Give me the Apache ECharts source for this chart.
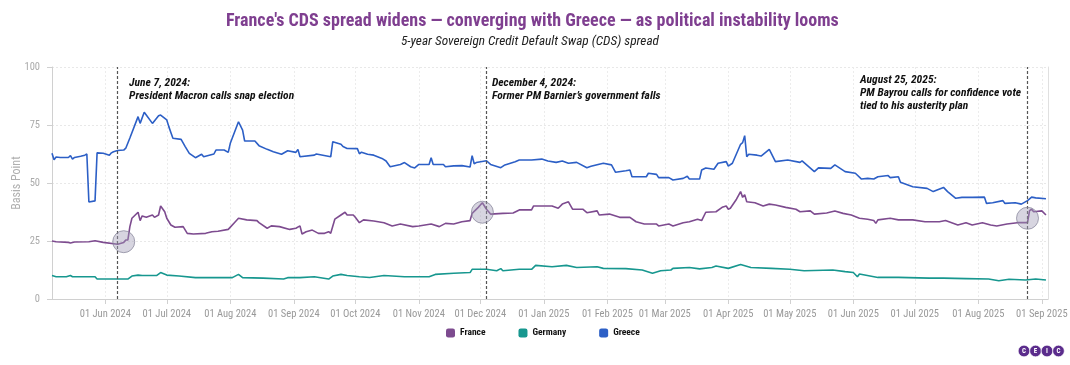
<!DOCTYPE html>
<html><head><meta charset="utf-8">
<script src="https://cdn.jsdelivr.net/npm/echarts@6/dist/echarts.min.js"></script>
<style>html,body{margin:0;padding:0;background:#fff}#c{width:1070px;height:365px}</style>
</head><body><div id="c"></div>
<script>
const FONT = "'Liberation Sans Narrow','Roboto Condensed','DejaVu Sans Condensed',Roboto,sans-serif";

const titleText = "France's CDS spread widens \u2014 converging with Greece \u2014 as political instability looms";
const subtitleText = "5-year Sovereign Credit Default Swap (CDS) spread";
const yAxisName = "Basis Point";
const seriesNames = ['France', 'Germany', 'Greece'];
const monthNames = ['Jan','Feb','Mar','Apr','May','Jun','Jul','Aug','Sep','Oct','Nov','Dec'];
const yTicks = [0, 25, 50, 75, 100];
const xRange = ['2024-05-06', '2025-09-04'];

const greece = [
['2024-05-06',62.8],['2024-05-07',60.0],['2024-05-08',61.2],['2024-05-10',61.0],['2024-05-14',61.0],
['2024-05-15',61.8],['2024-05-16',60.3],['2024-05-17',61.0],['2024-05-20',61.5],['2024-05-22',62.0],
['2024-05-23',62.5],['2024-05-24',41.8],['2024-05-27',42.3],['2024-05-28',63.0],['2024-05-31',62.8],
['2024-06-03',62.0],['2024-06-04',63.0],['2024-06-05',63.5],['2024-06-07',64.0],['2024-06-10',64.2],
['2024-06-11',65.0],['2024-06-13',69.4],['2024-06-17',78.6],['2024-06-18',75.7],['2024-06-20',80.5],
['2024-06-21',79.3],['2024-06-24',75.7],['2024-06-27',79.0],['2024-06-28',79.3],['2024-07-01',77.2],
['2024-07-02',74.3],['2024-07-03',71.8],['2024-07-04',69.3],['2024-07-08',68.8],['2024-07-10',65.7],
['2024-07-12',62.8],['2024-07-15',60.9],['2024-07-18',62.4],['2024-07-19',61.3],['2024-07-24',62.5],
['2024-07-25',64.2],['2024-07-29',64.2],['2024-07-31',63.2],['2024-08-01',67.1],['2024-08-05',76.4],
['2024-08-07',72.8],['2024-08-08',68.1],['2024-08-13',68.1],['2024-08-15',66.1],['2024-08-19',64.5],
['2024-08-22',63.5],['2024-08-26',62.4],['2024-08-29',63.9],['2024-09-02',63.2],['2024-09-03',64.5],
['2024-09-04',61.3],['2024-09-11',62.0],['2024-09-12',62.5],['2024-09-19',61.3],['2024-09-20',67.8],
['2024-09-24',66.7],['2024-09-25',65.7],['2024-09-27',64.9],['2024-10-02',64.8],['2024-10-03',62.6],
['2024-10-04',63.3],['2024-10-07',62.4],['2024-10-10',62.0],['2024-10-14',60.6],['2024-10-16',59.5],
['2024-10-18',57.0],['2024-10-23',58.0],['2024-10-25',58.8],['2024-10-28',57.0],['2024-10-30',56.5],
['2024-11-01',58.0],['2024-11-06',58.0],['2024-11-07',60.9],['2024-11-08',58.0],['2024-11-13',58.0],
['2024-11-14',57.0],['2024-11-18',57.4],['2024-11-22',57.5],['2024-11-26',56.9],['2024-11-27',61.8],
['2024-11-28',58.3],['2024-11-29',58.8],['2024-12-04',59.6],['2024-12-06',58.0],['2024-12-11',56.6],
['2024-12-13',57.8],['2024-12-18',59.2],['2024-12-20',59.9],['2024-12-26',59.9],['2024-12-31',60.3],
['2025-01-03',59.5],['2025-01-07',58.9],['2025-01-10',59.5],['2025-01-13',58.5],['2025-01-17',58.9],
['2025-01-22',56.6],['2025-01-24',57.2],['2025-01-30',58.5],['2025-02-03',57.8],['2025-02-05',54.6],
['2025-02-10',55.3],['2025-02-12',55.6],['2025-02-13',52.7],['2025-02-20',52.7],['2025-02-21',54.2],
['2025-02-25',53.7],['2025-02-26',52.3],['2025-03-03',52.3],['2025-03-05',51.3],['2025-03-10',52.0],
['2025-03-12',52.9],['2025-03-13',51.7],['2025-03-18',51.7],['2025-03-19',55.6],['2025-03-21',56.5],
['2025-03-25',55.9],['2025-03-27',58.5],['2025-03-31',59.2],['2025-04-01',57.3],['2025-04-03',58.5],
['2025-04-07',66.7],['2025-04-08',67.4],['2025-04-09',70.4],['2025-04-10',61.3],['2025-04-11',62.4],
['2025-04-15',62.0],['2025-04-17',61.6],['2025-04-21',64.5],['2025-04-24',59.2],['2025-04-30',59.9],
['2025-05-06',58.9],['2025-05-07',59.5],['2025-05-13',54.9],['2025-05-15',56.5],['2025-05-21',56.3],
['2025-05-23',57.8],['2025-05-28',54.9],['2025-06-02',54.2],['2025-06-05',51.7],['2025-06-08',52.0],
['2025-06-11',51.7],['2025-06-13',52.7],['2025-06-18',53.2],['2025-06-19',52.3],['2025-06-23',52.7],
['2025-06-24',50.3],['2025-06-30',48.4],['2025-07-07',47.7],['2025-07-10',46.3],['2025-07-15',48.1],
['2025-07-17',46.3],['2025-07-21',43.4],['2025-07-24',43.8],['2025-07-29',43.8],['2025-08-04',43.9],
['2025-08-05',41.2],['2025-08-08',41.5],['2025-08-13',42.4],['2025-08-14',41.2],['2025-08-19',41.5],
['2025-08-22',40.9],['2025-08-25',42.4],['2025-08-27',43.9],['2025-08-29',43.6],['2025-09-03',43.2]
];

const france = [
['2024-05-06',25.0],['2024-05-08',24.7],['2024-05-14',24.4],['2024-05-15',24.1],['2024-05-17',24.6],
['2024-05-24',24.7],['2024-05-27',25.1],['2024-05-31',24.4],['2024-06-07',23.6],['2024-06-10',24.4],
['2024-06-11',25.4],['2024-06-12',25.4],['2024-06-13',31.2],['2024-06-14',34.8],['2024-06-17',37.4],
['2024-06-18',33.8],['2024-06-19',35.8],['2024-06-21',35.2],['2024-06-24',36.2],['2024-06-25',35.2],
['2024-06-27',36.2],['2024-06-28',40.1],['2024-06-30',37.6],['2024-07-01',34.8],['2024-07-03',31.9],
['2024-07-05',30.9],['2024-07-09',31.2],['2024-07-11',28.3],['2024-07-14',28.0],['2024-07-20',28.3],
['2024-07-23',29.0],['2024-07-26',29.2],['2024-07-31',30.0],['2024-08-03',32.9],['2024-08-05',34.8],
['2024-08-09',34.1],['2024-08-14',33.8],['2024-08-15',32.9],['2024-08-19',30.5],['2024-08-21',31.5],
['2024-08-25',31.2],['2024-08-30',30.0],['2024-09-02',30.5],['2024-09-04',31.5],['2024-09-05',28.0],
['2024-09-07',29.0],['2024-09-10',29.7],['2024-09-13',28.3],['2024-09-16',28.3],['2024-09-18',29.0],
['2024-09-19',28.3],['2024-09-21',34.4],['2024-09-24',36.2],['2024-09-26',37.4],['2024-09-27',36.2],
['2024-09-30',36.2],['2024-10-01',35.2],['2024-10-03',32.9],['2024-10-05',34.1],['2024-10-10',33.6],
['2024-10-15',32.9],['2024-10-19',31.5],['2024-10-23',32.3],['2024-10-29',31.2],['2024-11-01',31.5],
['2024-11-07',32.3],['2024-11-11',31.2],['2024-11-14',32.6],['2024-11-18',32.3],['2024-11-22',33.3],
['2024-11-26',33.8],['2024-11-27',36.9],['2024-11-30',39.5],['2024-12-02',41.5],['2024-12-04',38.7],
['2024-12-06',36.6],['2024-12-12',36.9],['2024-12-17',37.1],['2024-12-20',38.4],['2024-12-26',38.4],
['2024-12-27',40.1],['2025-01-05',40.1],['2025-01-08',39.1],['2025-01-10',40.9],['2025-01-13',41.9],
['2025-01-15',38.7],['2025-01-20',38.7],['2025-01-22',37.2],['2025-01-27',38.0],['2025-01-28',36.2],
['2025-02-02',36.6],['2025-02-07',35.2],['2025-02-12',35.2],['2025-02-15',33.3],['2025-02-19',32.3],
['2025-02-25',32.3],['2025-02-26',31.5],['2025-03-03',32.3],['2025-03-05',31.5],['2025-03-10',32.9],
['2025-03-13',33.3],['2025-03-17',34.4],['2025-03-19',33.8],['2025-03-21',37.4],['2025-03-26',37.6],
['2025-03-29',39.5],['2025-03-31',40.1],['2025-04-01',38.7],['2025-04-02',39.1],['2025-04-05',43.0],
['2025-04-07',46.3],['2025-04-08',43.8],['2025-04-09',45.0],['2025-04-10',41.9],['2025-04-14',41.5],
['2025-04-18',40.1],['2025-04-21',40.9],['2025-04-24',40.5],['2025-04-29',39.5],['2025-05-04',38.7],
['2025-05-06',37.6],['2025-05-11',38.0],['2025-05-13',36.6],['2025-05-19',37.1],['2025-05-23',37.9],
['2025-05-27',36.9],['2025-05-31',36.2],['2025-06-04',34.8],['2025-06-08',34.4],['2025-06-11',33.8],
['2025-06-12',32.6],['2025-06-13',34.1],['2025-06-19',34.8],['2025-06-23',34.1],['2025-06-30',34.1],
['2025-07-06',33.3],['2025-07-13',33.3],['2025-07-16',33.8],['2025-07-22',31.9],['2025-07-26',32.9],
['2025-07-29',31.9],['2025-08-03',32.9],['2025-08-07',31.9],['2025-08-10',31.5],['2025-08-15',32.3],
['2025-08-20',32.9],['2025-08-25',32.9],['2025-08-26',38.1],['2025-08-27',38.7],['2025-08-28',37.6],
['2025-09-01',38.0],['2025-09-03',36.2]
];

const germany = [
['2024-05-06',10.1],['2024-05-08',9.6],['2024-05-13',9.6],['2024-05-15',10.1],['2024-05-16',9.6],
['2024-05-27',9.6],['2024-05-28',8.6],['2024-06-12',8.6],['2024-06-14',9.9],['2024-06-17',10.3],
['2024-06-19',10.1],['2024-06-26',10.1],['2024-06-28',11.4],['2024-07-01',10.3],['2024-07-07',9.9],
['2024-07-15',9.2],['2024-08-02',9.2],['2024-08-05',10.6],['2024-08-07',9.2],['2024-08-17',9.0],
['2024-08-27',8.6],['2024-08-29',9.2],['2024-09-04',9.2],['2024-09-11',9.6],['2024-09-18',8.6],
['2024-09-20',9.9],['2024-09-24',10.6],['2024-09-27',10.1],['2024-10-03',9.6],['2024-10-08',9.3],
['2024-10-15',10.1],['2024-10-25',9.6],['2024-11-06',9.6],['2024-11-09',10.6],['2024-11-18',11.1],
['2024-11-26',11.4],['2024-11-27',12.8],['2024-12-04',12.8],['2024-12-09',12.2],['2024-12-11',13.1],
['2024-12-12',12.2],['2024-12-20',12.8],['2024-12-26',12.8],['2024-12-28',14.5],['2025-01-05',13.9],
['2025-01-12',14.5],['2025-01-17',13.6],['2025-01-27',13.9],['2025-01-30',13.2],['2025-02-10',13.1],
['2025-02-18',12.5],['2025-02-23',11.1],['2025-02-27',12.2],['2025-03-04',12.5],['2025-03-05',13.2],
['2025-03-13',13.6],['2025-03-18',13.0],['2025-03-24',13.6],['2025-03-26',14.2],['2025-04-01',13.2],
['2025-04-07',14.9],['2025-04-12',13.6],['2025-04-22',13.2],['2025-05-01',12.8],['2025-05-08',12.2],
['2025-05-22',12.5],['2025-05-28',11.8],['2025-06-01',11.4],['2025-06-03',9.6],['2025-06-04',10.8],
['2025-06-13',9.3],['2025-06-23',9.3],['2025-07-08',9.0],['2025-07-15',9.0],['2025-07-26',8.8],
['2025-08-06',8.6],['2025-08-11',7.9],['2025-08-16',8.5],['2025-08-24',8.2],['2025-08-29',8.6],
['2025-09-03',8.2]
];

const eventDates = ['2024-06-07', '2024-12-04', '2025-08-25'];
const eventTexts = [
  'June 7, 2024:\nPresident Macron calls snap election',
  'December 4, 2024:\nFormer PM Barnier\u2019s government falls',
  'August 25, 2025:\nPM Bayrou calls for confidence vote\ntied to his austerity plan'
];
const highlights = [['2024-06-10', 24.7], ['2024-12-02', 37.4], ['2025-08-25', 34.8]];
const logoLetters = ['C', 'E', 'I', 'C'];

// ---------- build ----------
const ts = s => { const p = s.split('-'); return new Date(+p[0], +p[1] - 1, +p[2]).getTime(); };
const toSeries = arr => arr.map(d => [ts(d[0]), d[1]]);
const colors = { France: '#7d4b8f', Germany: '#17978f', Greece: '#2c5fc6' };
const annoOffsets = [[12, 10], [6, 10], [-167, 7]];
const pad = n => (n < 10 ? '0' : '') + n;

const chart = echarts.init(document.getElementById('c'), null, { renderer: 'canvas' });

const markPointData = highlights.map(h => ({
  coord: [ts(h[0]), h[1]], symbol: 'circle', symbolSize: 22,
  itemStyle: { color: 'rgba(160,155,180,0.42)', borderColor: 'rgba(130,128,150,0.7)', borderWidth: 1 },
  label: { show: false }
})).concat(eventDates.map((d, i) => ({
  coord: [ts(d), 100], symbol: 'circle', symbolSize: 1,
  itemStyle: { color: 'rgba(0,0,0,0)' },
  label: {
    show: true, position: annoOffsets[i], formatter: eventTexts[i],
    align: 'left', verticalAlign: 'top', color: '#111', fontFamily: FONT,
    fontSize: 11.5, fontWeight: 'bold', fontStyle: 'italic', lineHeight: 13
  }
})));

const series = [
  { name: 'France', data: toSeries(france) },
  { name: 'Germany', data: toSeries(germany) },
  { name: 'Greece', data: toSeries(greece) }
].map(s => ({
  name: s.name, type: 'line', data: s.data, showSymbol: false, symbol: 'none',
  lineStyle: { width: 1.6, color: colors[s.name] }, itemStyle: { color: colors[s.name] },
  animation: false, z: 2
}));
series[0].markLine = {
  silent: true, symbol: ['none', 'none'], animation: false,
  lineStyle: { color: '#555', type: [3, 2], width: 1.2 },
  label: { show: false },
  data: eventDates.map(d => ({ xAxis: ts(d) }))
};
series[0].markPoint = { silent: true, animation: false, data: markPointData };

const logoCenters = [1024, 1035.5, 1047, 1058.5];
const logo = logoCenters.map((cx, i) => ({
  type: 'group', children: [
    { type: 'circle', shape: { cx: cx, cy: 351, r: 5.8 }, style: { fill: '#5b2c8c', stroke: '#fff', lineWidth: 0.6 } },
    { type: 'text', x: cx, y: 351, style: { text: logoLetters[i], fill: '#fff', font: 'bold 7px ' + FONT, align: 'center', verticalAlign: 'middle' } }
  ]
}));

chart.setOption({
  animation: false,
  backgroundColor: '#fff',
  title: [
    { text: titleText, left: 221, top: 7, textStyle: { color: '#7f3f90', fontSize: 18, fontWeight: 'bold', fontFamily: FONT } },
    { text: subtitleText, left: 396, top: 30, textStyle: { color: '#222', fontSize: 13.3, fontStyle: 'italic', fontWeight: 'normal', fontFamily: FONT } }
  ],
  legend: {
    data: seriesNames, left: 441, top: 323, itemWidth: 9, itemHeight: 9, itemGap: 33, icon: 'roundRect',
    textStyle: { color: '#111', fontSize: 9.5, fontWeight: 'bold', fontFamily: FONT }
  },
  grid: { left: 52, right: 22, top: 67, bottom: 66, containLabel: false, outerBoundsMode: 'none' },
  xAxis: {
    type: 'time', min: ts(xRange[0]), max: ts(xRange[1]),
    splitNumber: 16, minInterval: 28 * 864e5, maxInterval: 31 * 864e5,
    axisLine: { lineStyle: { color: '#d0d0d0' } },
    axisTick: { show: true, length: 5, lineStyle: { color: '#d0d0d0' } },
    splitLine: { show: true, lineStyle: { color: '#ececec', type: [2, 2] } },
    axisLabel: {
      color: '#999', fontSize: 10.5, fontFamily: FONT, margin: 10,
      showMinLabel: false, showMaxLabel: false, hideOverlap: false,
      formatter: v => { const d = new Date(v); return pad(d.getDate()) + ' ' + monthNames[d.getMonth()] + ' ' + d.getFullYear(); }
    }
  },
  yAxis: [{
    type: 'value', min: yTicks[0], max: yTicks[yTicks.length - 1], interval: yTicks[1] - yTicks[0],
    name: yAxisName, nameLocation: 'middle', nameGap: 29, nameRotate: 90, nameMoveOverlap: false,
    nameTextStyle: { color: '#b0b0b0', fontSize: 12, fontFamily: FONT },
    axisLine: { show: true, lineStyle: { color: '#d0d0d0' } },
    axisTick: { show: true, length: 5, lineStyle: { color: '#d0d0d0' } },
    splitLine: { show: true, lineStyle: { color: '#e8e8e8', type: [2, 2] } },
    axisLabel: { color: '#aaa', fontSize: 10.5, fontFamily: FONT, margin: 12 }
  }, {
    type: 'value', min: yTicks[0], max: yTicks[yTicks.length - 1], position: 'right',
    axisLine: { show: true, lineStyle: { color: '#e0e0e0' } },
    axisTick: { show: false }, axisLabel: { show: false }, splitLine: { show: false }
  }],
  series: series,
  graphic: logo
});
</script></body></html>
